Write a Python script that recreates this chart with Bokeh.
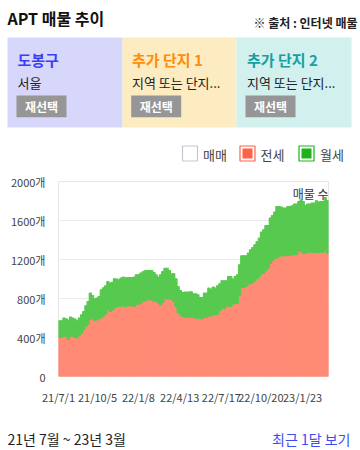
from bokeh.plotting import figure
from bokeh.models import ColumnDataSource, Range1d, FixedTicker, Label
from bokeh.layouts import column
from bokeh.core.properties import value
from bokeh.embed import file_html
from bokeh.resources import INLINE

FONT = "Noto Sans CJK KR"

# ---- data (5-day samples from 21/7/1) ----
jeonse = [404, 404, 417, 411, 383, 417, 410, 404, 398, 420,
          445, 479, 513, 540, 585, 599, 575, 580, 589, 605,
          620, 640, 691, 667, 680, 701, 718, 718, 722, 725,
          715, 725, 725, 725, 718, 742, 742, 753, 776, 776,
          787, 787, 787, 770, 770, 753, 735, 760, 797, 797,
          797, 790, 770, 718, 656, 633, 616, 609, 609, 609,
          609, 609, 599, 599, 599, 589, 605, 605, 622, 622,
          633, 633, 640, 674, 698, 698, 725, 718, 718, 742,
          753, 753, 831, 913, 913, 923, 948, 948, 964, 982,
          1002, 1026, 1060, 1060, 1087, 1111, 1163, 1187, 1214, 1214,
          1231, 1238, 1238, 1238, 1241, 1241, 1248, 1248, 1248, 1289,
          1282, 1265, 1265, 1275, 1275, 1275, 1275, 1272, 1272, 1275,
          1275, 1289, 1265]
wolse = [167, 167, 182, 180, 197, 192, 190, 186, 173, 180,
         188, 188, 212, 230, 270, 231, 222, 225, 232, 284,
         290, 290, 284, 291, 285, 301, 282, 274, 288, 294,
         297, 291, 291, 291, 301, 301, 301, 307, 299, 308,
         300, 300, 300, 297, 273, 266, 308, 317, 314, 314,
         290, 263, 283, 284, 267, 249, 246, 257, 257, 257,
         260, 239, 249, 239, 211, 221, 250, 250, 284, 274,
         284, 273, 290, 277, 284, 284, 257, 308, 308, 257,
         273, 290, 315, 325, 325, 315, 317, 352, 359, 369,
         383, 393, 421, 445, 462, 438, 462, 464, 472, 530,
         513, 499, 489, 489, 503, 503, 503, 520, 520, 506,
         528, 530, 489, 493, 493, 503, 503, 530, 517, 520,
         520, 547, 540]
step_days = 5
tick_days = [0, 89, 182, 276, 371, 461, 556]
tick_labels = ["21/7/1", "21/10/5", "22/1/8", "22/4/13", "22/7/17", "22/10/20", "23/1/23"]
y_ticks = [0, 400, 800, 1200, 1600, 2000]
y_labels = ["0", "400개", "800개", "1200개", "1600개", "2000개"]
series_names = ["매매", "전세", "월세"]

days = [i * step_days + step_days / 2 for i in range(len(jeonse))]
src = ColumnDataSource(dict(x=days, jeonse=jeonse, wolse=wolse))

ORANGE = "#ff8b75"
GREEN = "#57c94f"
W = 360


def blank(h):
    f = figure(width=W, height=h, output_backend="svg", toolbar_location=None,
               x_range=Range1d(0, W), y_range=Range1d(h, 0),
               min_border=0, min_border_left=0, min_border_right=0,
               min_border_top=0, min_border_bottom=0, frame_align=False)
    f.axis.visible = False
    f.grid.visible = False
    f.outline_line_color = None
    return f


# ---- header ----
hd = blank(168)
hd.text(x=[7], y=[17], text=["APT 매물 추이"], text_font=value(FONT), text_font_size="16px",
        text_font_style="bold", text_color="#111111", text_baseline="middle")
hd.text(x=[357], y=[21.5], text=["※ 출처 : 인터넷 매물"], text_font=value(FONT), text_font_size="12px",
        text_font_style="bold", text_color="#222222", text_baseline="middle", text_align="right")

box_left = [7, 122, 236]
box_right = [122, 236, 351]
box_colors = ["#d6d7fa", "#fdebc2", "#d1f0ee"]
hd.quad(left=box_left, right=box_right, top=[37] * 3, bottom=[127] * 3,
        fill_color=box_colors, line_color=None)
titles = ["도봉구", "추가 단지 1", "추가 단지 2"]
title_colors = ["#3b3ef5", "#ff8c0a", "#17a0a0"]
subs = ["서울", "지역 또는 단지...", "지역 또는 단지..."]
tx = [17, 131.5, 246.5]
hd.text(x=tx, y=[58.5] * 3, text=titles, text_color=title_colors, text_font=value(FONT),
        text_font_size="15px", text_font_style="bold", text_baseline="middle")
hd.text(x=tx, y=[82] * 3, text=subs, text_color="#222222", text_font=value(FONT),
        text_font_size="13px", text_baseline="middle")
bl = [16, 130.7, 245]
hd.quad(left=bl, right=[b + 50 for b in bl], top=[95] * 3, bottom=[116.7] * 3,
        fill_color="#969696", line_color=None)
hd.text(x=[b + 25 for b in bl], y=[106] * 3, text=["재선택"] * 3, text_color="white",
        text_font=value(FONT), text_font_size="12px", text_font_style="bold",
        text_baseline="middle", text_align="center")

# legend
lx = [182, 239.5, 298.5]
hd.quad(left=lx, right=[v + 15 for v in lx], top=[145.5] * 3, bottom=[160.5] * 3,
        fill_color="white", line_color=["#c3c7cf", "#ff6347", "#1fb31a"], line_width=1.2)
hd.quad(left=[v + 2.5 for v in lx[1:]], right=[v + 12.5 for v in lx[1:]],
        top=[148] * 2, bottom=[158] * 2, fill_color=["#ff6347", "#1fb31a"], line_color=None)
hd.text(x=[202.5, 260, 319.5], y=[153.5] * 3, text=series_names, text_color="#444444",
        text_font=value(FONT), text_font_size="13px", text_baseline="middle")

# ---- chart ----
p = figure(width=W, height=239, output_backend="svg", toolbar_location=None,
           x_range=Range1d(0, len(jeonse) * step_days), y_range=Range1d(0, 2000),
           min_border_left=58, min_border_right=32, min_border_top=13, min_border_bottom=31,
           frame_align=False)
p.vbar_stack(["jeonse", "wolse"], x="x", width=step_days, source=src,
             fill_color=[ORANGE, GREEN], line_color=[ORANGE, GREEN], line_width=1.1)
p.outline_line_color = "#e6e6e6"
p.xgrid.visible = False
p.ygrid.ticker = FixedTicker(ticks=y_ticks)
p.ygrid.grid_line_color = "#ebebeb"
p.yaxis.ticker = FixedTicker(ticks=y_ticks)
p.yaxis.major_label_overrides = {t: l for t, l in zip(y_ticks, y_labels)}
p.xaxis.ticker = FixedTicker(ticks=tick_days)
p.xaxis.major_label_overrides = {t: l for t, l in zip(tick_days, tick_labels)}
for ax in (p.xaxis[0], p.yaxis[0]):
    ax.axis_line_color = None
    ax.major_tick_line_color = None
    ax.minor_tick_line_color = None
    ax.major_tick_out = 0
    ax.major_tick_in = 0
    ax.major_label_text_font = FONT
    ax.major_label_text_font_size = "11px"
    ax.major_label_text_color = "#444444"
p.yaxis.major_label_standoff = 13
p.xaxis.major_label_standoff = 12
p.add_layout(Label(x=len(jeonse) * step_days, y=1880, text="매물 수", text_align="right",
                   text_baseline="middle", text_font=FONT, text_font_size="12px",
                   text_color="#333333"))

# ---- footer ----
ft = blank(43)
ft.text(x=[7], y=[31], text=["21년 7월 ~ 23년 3월"], text_font=value(FONT), text_font_size="14px",
        text_color="#222222", text_baseline="middle")
ft.text(x=[350], y=[31], text=["최근 1달 보기"], text_font=value(FONT), text_font_size="14px",
        text_color="#3b4cf5", text_baseline="middle", text_align="right")

layout = column(hd, p, ft, spacing=0)
open("out.html", "w").write(file_html(layout, INLINE))
